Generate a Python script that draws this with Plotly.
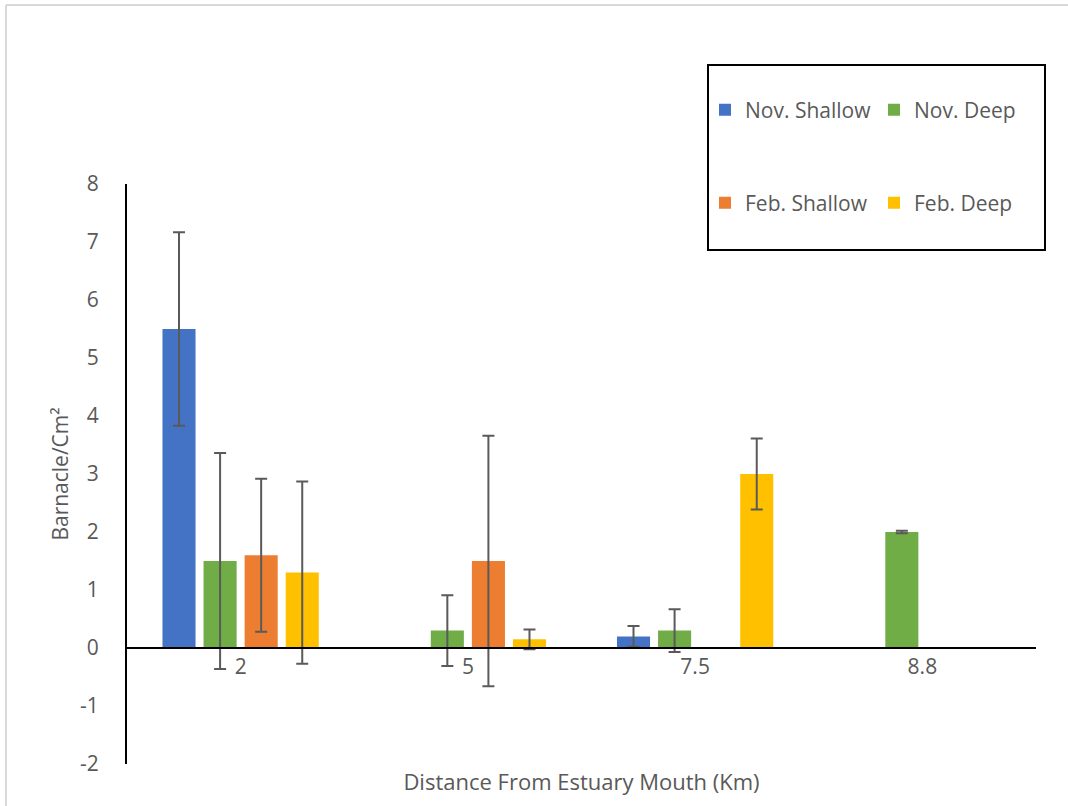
import plotly.graph_objects as go

# Sampling sites: distance from the estuary mouth (km)
distances = ["2", "5", "7.5", "8.8"]

# Mean barnacle density (per cm²) and error for each survey
nov_shallow = [5.5, 0.0, 0.2, 0.0]
nov_shallow_err = [1.67, 0.0, 0.18, 0.0]

nov_deep = [1.5, 0.3, 0.3, 2.0]
nov_deep_err = [1.86, 0.61, 0.37, 0.02]

feb_shallow = [1.6, 1.5, 0.0, 0.0]
feb_shallow_err = [1.32, 2.16, 0.0, 0.0]

feb_deep = [1.3, 0.15, 3.0, 0.0]
feb_deep_err = [1.57, 0.17, 0.61, 0.0]

# Y-axis ticks (plain hyphen for negatives)
y_ticks = [-2, -1, 0, 1, 2, 3, 4, 5, 6, 7, 8]
y_tick_text = ["-2", "-1", "0", "1", "2", "3", "4", "5", "6", "7", "8"]

series = [
    ("Nov. Shallow", nov_shallow, nov_shallow_err, "#4472C4", "legend"),
    ("Nov. Deep", nov_deep, nov_deep_err, "#70AD47", "legend"),
    ("Feb. Shallow", feb_shallow, feb_shallow_err, "#ED7D31", "legend2"),
    ("Feb. Deep", feb_deep, feb_deep_err, "#FFC000", "legend2"),
]

FONT = "Open Sans"
GREY = "#595959"
FS = 21

W, H = 1068, 806
ML, MR, MT, MB = 127, 32, 184, 42
PW, PH = W - ML - MR, H - MT - MB


def px_x(p):
    return (p - ML) / PW


def px_y(p):
    return (H - MB - p) / PH


fig = go.Figure()
for name, vals, errs, color, leg in series:
    fig.add_trace(go.Bar(
        name=name,
        x=distances,
        y=vals,
        marker=dict(color=color, line=dict(width=0)),
        error_y=dict(type="data", array=errs, visible=True,
                     color="#5a5a5a", thickness=2, width=6),
        legend=leg,
    ))

ymin, ymax = -2, 8
zero_pos = (0 - ymin) / (ymax - ymin)

fig.update_layout(
    width=W, height=H,
    margin=dict(l=ML, r=MR, t=MT, b=MB, autoexpand=False),
    paper_bgcolor="white",
    plot_bgcolor="white",
    barmode="group",
    bargap=0.277,
    bargroupgap=0.195,
    font=dict(family=FONT, size=FS, color=GREY),
    xaxis=dict(
        type="category",
        anchor="free",
        position=zero_pos,
        showline=True, linecolor="black", linewidth=2,
        showgrid=False, ticks="", tickfont=dict(size=FS, color=GREY),
        title=dict(text="Distance From Estuary Mouth (Km)",
                   font=dict(size=22, color=GREY), standoff=94),
        automargin=False,
    ),
    yaxis=dict(
        range=[ymin, ymax],
        tickmode="array", tickvals=y_ticks, ticktext=y_tick_text,
        showline=True, linecolor="black", linewidth=2,
        showgrid=False, zeroline=False,
        ticks="outside", ticklen=22, tickcolor="rgba(0,0,0,0)",
        tickfont=dict(size=FS, color=GREY),
        title=dict(text="Barnacle/Cm²", font=dict(size=FS, color=GREY),
                   standoff=6),
        automargin=False,
    ),
    legend=dict(
        orientation="h", x=px_x(705), y=px_y(110), xanchor="left",
        yanchor="middle", entrywidth=124, bgcolor="rgba(0,0,0,0)",
        font=dict(size=FS, color=GREY), traceorder="normal",
    ),
    legend2=dict(
        orientation="h", x=px_x(705), y=px_y(203), xanchor="left",
        yanchor="middle", entrywidth=124, bgcolor="rgba(0,0,0,0)",
        font=dict(size=FS, color=GREY), traceorder="normal",
    ),
    shapes=[
        # legend frame
        dict(type="rect", xref="paper", yref="paper",
             x0=px_x(708), x1=px_x(1045), y0=px_y(250), y1=px_y(65),
             line=dict(color="black", width=2), fillcolor="rgba(0,0,0,0)"),
        # chart-area border
        dict(type="line", xref="paper", yref="paper",
             x0=px_x(6), x1=px_x(1068), y0=px_y(5), y1=px_y(5),
             line=dict(color="#d9d9d9", width=2)),
        dict(type="line", xref="paper", yref="paper",
             x0=px_x(6), x1=px_x(6), y0=px_y(5), y1=px_y(806),
             line=dict(color="#d9d9d9", width=2)),
    ],
)

fig.write_html("out.html")
